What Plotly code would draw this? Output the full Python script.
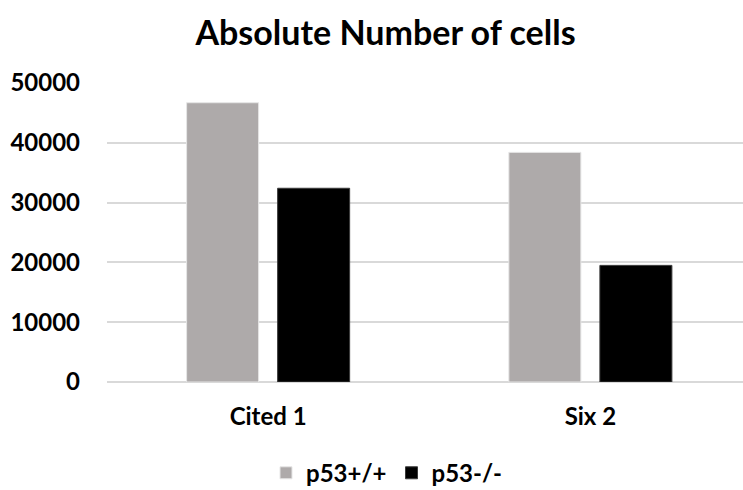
import plotly.graph_objects as go

categories = ["Cited 1", "Six 2"]
wild_type = [46700, 38400]
knockout = [32400, 19500]
series_names = ["p53+/+", "p53-/-"]
y_ticks = [0, 10000, 20000, 30000, 40000, 50000]

FONT = "Lato"
bold = dict(family=FONT, size=24, color="#000000", weight="bold")

fig = go.Figure()
fig.add_trace(go.Bar(
    x=categories, y=wild_type, name=series_names[0],
    marker=dict(color="#AEAAAA", line=dict(color="#E6E6E6", width=1)),
))
fig.add_trace(go.Bar(
    x=categories, y=knockout, name=series_names[1],
    marker=dict(color="#000000", line=dict(color="#3A3A3A", width=1)),
))

fig.update_layout(
    width=743, height=490,
    paper_bgcolor="white", plot_bgcolor="white",
    margin=dict(l=107, r=0, t=83, b=108, pad=0, autoexpand=False),
    barmode="group", bargap=0.435, bargroupgap=0.209,
    title=dict(
        text="Absolute Number of cells",
        xref="paper", x=0.438, xanchor="center",
        yref="container", y=0.933, yanchor="middle",
        font=dict(family=FONT, size=34, color="#000000", weight="bold"),
    ),
    font=bold,
    showlegend=True,
    legend=dict(
        orientation="h", x=0.25, xanchor="left", y=-0.305, yanchor="middle",
        font=bold, itemwidth=30, traceorder="normal",
    ),
)

fig.update_xaxes(
    range=[-0.5, 1.4736], showgrid=False, showline=False, zeroline=False,
    ticks="", tickfont=bold, ticklabelstandoff=18,
)
fig.update_yaxes(
    range=[0, 50000], tickvals=y_ticks,
    showgrid=True, gridcolor="#D9D9D9", gridwidth=1.5,
    zeroline=True, zerolinecolor="#D9D9D9", zerolinewidth=1.5,
    showline=False, ticks="", ticklabelstandoff=26, tickformat="d",
    tickfont=bold,
)

fig.write_html("out.html")
